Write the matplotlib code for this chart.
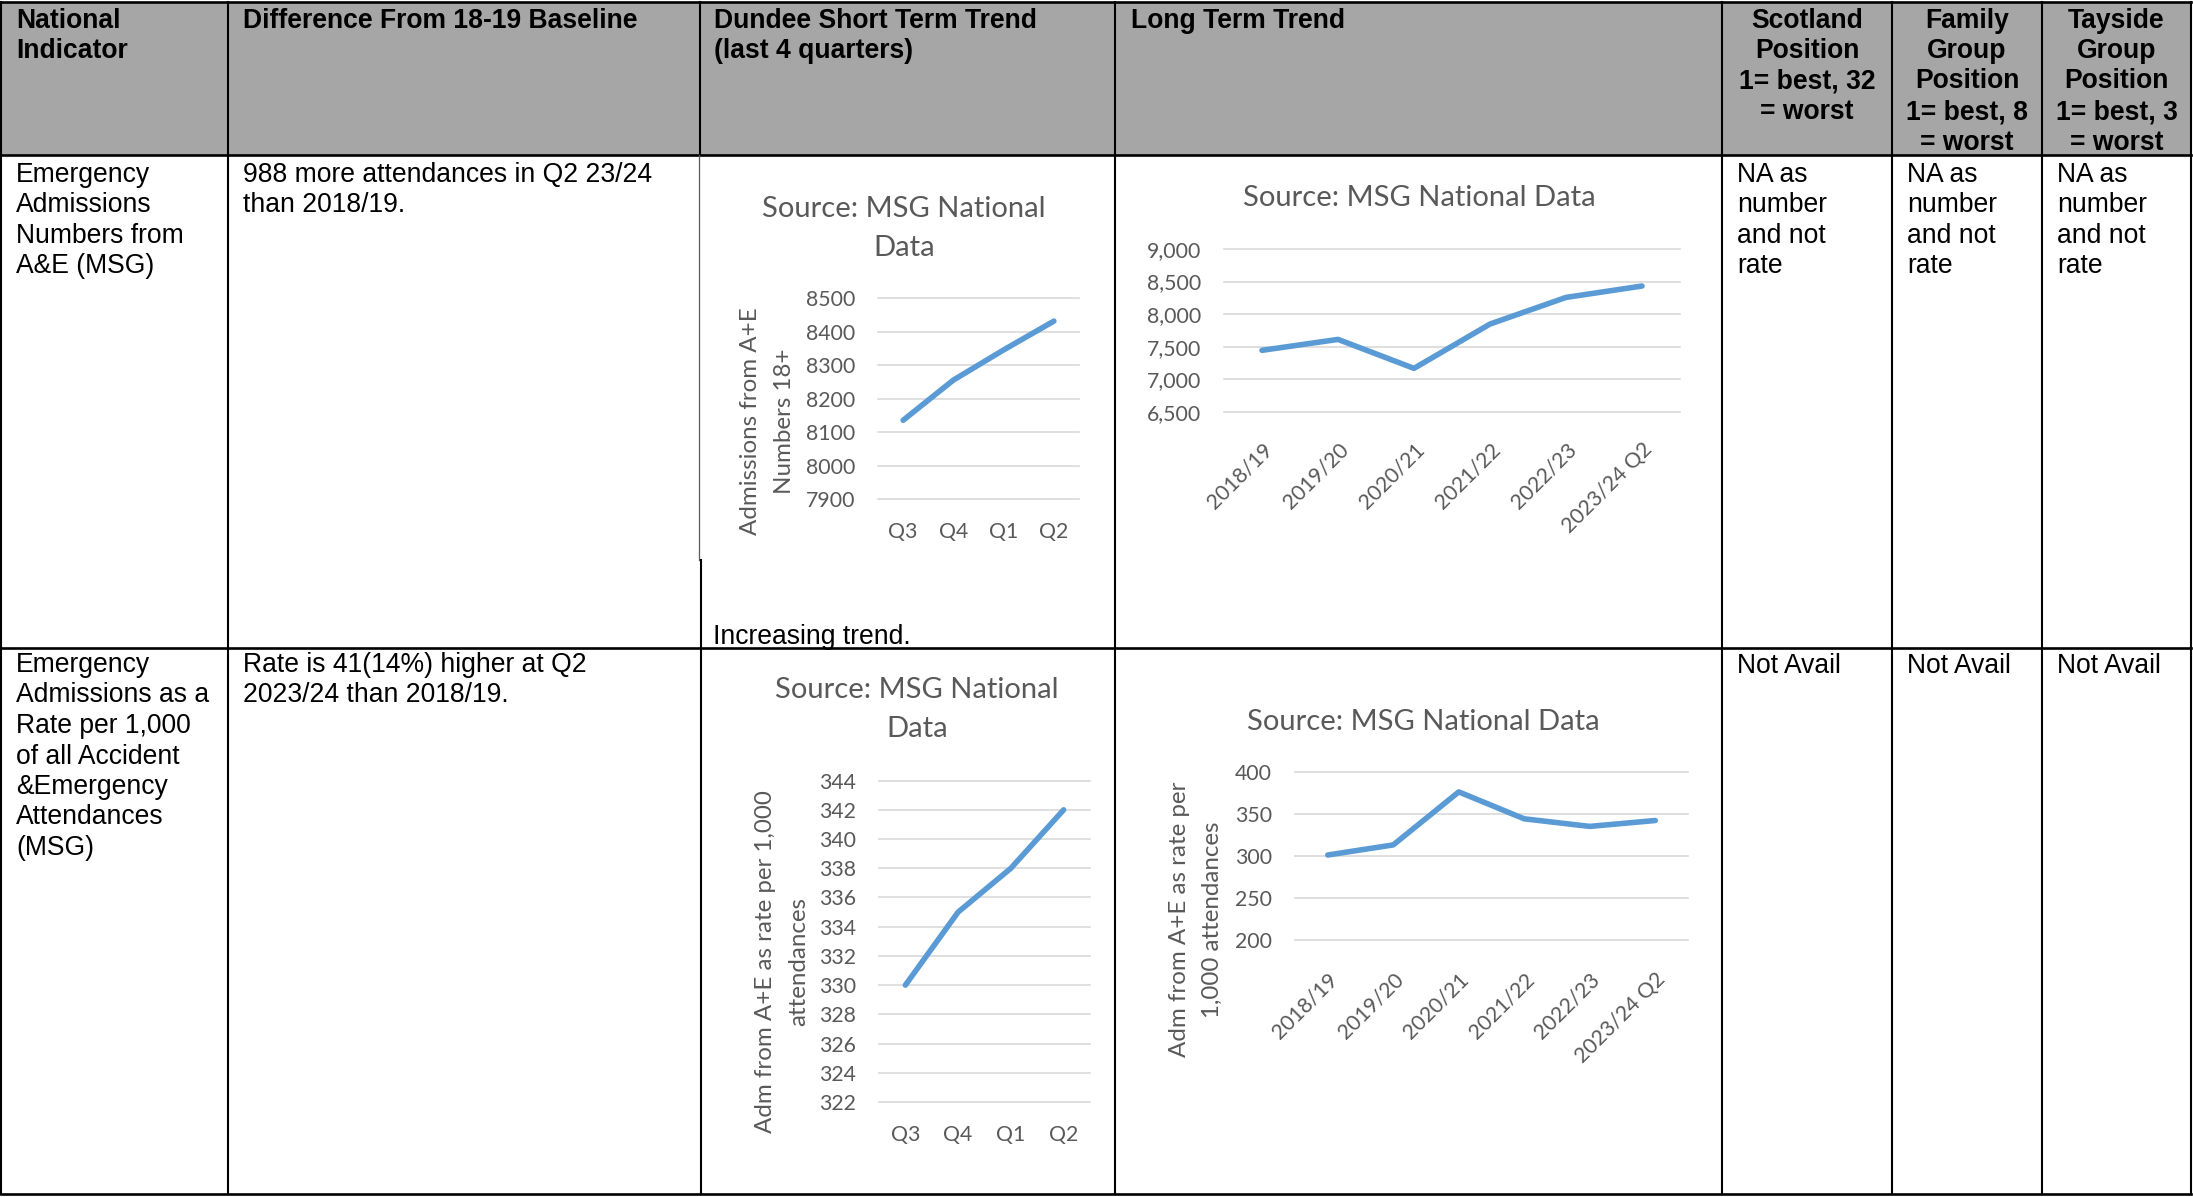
import matplotlib
matplotlib.use("Agg")
import matplotlib.pyplot as plt
from matplotlib.patches import Rectangle

W, H, DPI = 2193, 1197, 100

# ---------------- data ----------------
quarters = ["Q3", "Q4", "Q1", "Q2"]
years = ["2018/19", "2019/20", "2020/21", "2021/22", "2022/23", "2023/24 Q2"]

adm_numbers_short = [8135, 8255, 8345, 8431]
adm_numbers_long = [7443, 7611, 7166, 7847, 8256, 8431]
adm_rate_short = [330, 335, 338, 342]
adm_rate_long = [301, 313, 376, 344, 335, 342]

numbers_short_ticks = [7900, 8000, 8100, 8200, 8300, 8400, 8500]
numbers_long_ticks = [6500, 7000, 7500, 8000, 8500, 9000]
rate_short_ticks = [322, 324, 326, 328, 330, 332, 334, 336, 338, 340, 342, 344]
rate_long_ticks = [200, 250, 300, 350, 400]

header_texts = [
    ["National", "Indicator"],
    ["Difference From 18-19 Baseline"],
    ["Dundee Short Term Trend", "(last 4 quarters)"],
    ["Long Term Trend"],
    ["Scotland", "Position", "1= best, 32", "= worst"],
    ["Family", "Group", "Position", "1= best, 8", "= worst"],
    ["Tayside", "Group", "Position", "1= best, 3", "= worst"],
]
row1_indicator = ["Emergency", "Admissions", "Numbers from", "A&E (MSG)"]
row1_difference = ["988 more attendances in Q2 23/24", "than 2018/19."]
row1_trend_note = "Increasing trend."
row1_positions = ["NA as", "number", "and not", "rate"]
row2_indicator = ["Emergency", "Admissions as a", "Rate per 1,000", "of all Accident",
                  "&Emergency", "Attendances", "(MSG)"]
row2_difference = ["Rate is 41(14%) higher at Q2", "2023/24 than 2018/19."]
row2_positions = ["Not Avail"]

chart_title_short = "Source: MSG National\nData"
chart_title_long = "Source: MSG National Data"
ylabel_numbers = "Admissions from A+E\nNumbers 18+"
ylabel_rate_short = "Adm from A+E as rate per 1,000\nattendances"
ylabel_rate_long = "Adm from A+E as rate per\n1,000 attendances"

# ---------------- layout (pixels) ----------------
col_x = [1, 228, 700, 1115, 1722, 1892, 2042, 2191]
row_y = [2, 155, 648, 1194]

TABLE_FONT = ["Liberation Sans", "DejaVu Sans"]
CHART_FONT = ["Lato", "DejaVu Sans"]
TABLE_SIZE = 19.1
HEADER_GREY = "#A6A6A6"
CHART_TEXT = "#595959"
GRID = "#D9D9D9"
LINE_BLUE = "#5B9BD5"
LINE_STEP = 30.5

fig = plt.figure(figsize=(W / DPI, H / DPI), dpi=DPI)
fig.patch.set_facecolor("white")
bg = fig.add_axes([0, 0, 1, 1])
bg.set_xlim(0, W)
bg.set_ylim(H, 0)
bg.axis("off")

# header band
bg.add_patch(Rectangle((col_x[0], row_y[0]), col_x[-1] - col_x[0], row_y[1] - row_y[0],
                       facecolor=HEADER_GREY, edgecolor="none", zorder=0))

# table rules
for y in row_y:
    bg.plot([col_x[0], col_x[-1]], [y, y], color="black", lw=1.9, zorder=3,
            solid_capstyle="projecting")
for i, x in enumerate(col_x):
    if i == 2:
        bg.plot([x, x], [row_y[0], row_y[1]], color="black", lw=1.5, zorder=3)
        bg.plot([x - 1, x - 1], [row_y[1], 560], color="#5A5A5A", lw=0.9, zorder=3)
        bg.plot([x + 1, x + 1], [560, row_y[3]], color="black", lw=1.5, zorder=3)
    else:
        bg.plot([x, x], [row_y[0], row_y[-1]], color="black", lw=1.5, zorder=3)


def lines_at(x, y0, lines, ha="left", bold=False):
    for k, s in enumerate(lines):
        bg.text(x, y0 + k * LINE_STEP, s, ha=ha, va="baseline", fontsize=TABLE_SIZE,
                family=TABLE_FONT, fontweight="bold" if bold else "normal",
                color="black", zorder=4)


# header text
header_left = [16, 243, 714, 1131]
for i in range(4):
    lines_at(header_left[i], 27.5, header_texts[i], bold=True)
for i in range(4, 7):
    lines_at((col_x[i] + col_x[i + 1]) / 2, 27.5, header_texts[i], ha="center", bold=True)

# row 1
lines_at(16, 181.7, row1_indicator)
lines_at(243, 181.7, row1_difference)
lines_at(713, 644, [row1_trend_note])
for xl in (1737, 1907, 2057):
    lines_at(xl, 181.7, row1_positions)

# row 2
lines_at(16, 672, row2_indicator)
lines_at(243, 672, row2_difference)
for xl in (1737, 1907, 2057):
    lines_at(xl, 673, row2_positions)


def px_axes(x0, y0, x1, y1):
    return fig.add_axes([x0 / W, 1 - y1 / H, (x1 - x0) / W, (y1 - y0) / H])


def line_chart(box, cats, values, ticks, tick_fmt, title, title_xy, ylabel=None,
               ylabel_xy=None, rotate=False, xpad=13.0):
    ax = px_axes(*box)
    ax.set_facecolor("none")
    xs = list(range(len(cats)))
    ax.plot(xs, values, color=LINE_BLUE, lw=4.0, solid_capstyle="round",
            solid_joinstyle="round", zorder=3)
    ax.set_xlim(-0.5, len(cats) - 0.5)
    ax.set_ylim(ticks[0], ticks[-1])
    ax.set_yticks(ticks, [tick_fmt(t) for t in ticks])
    if rotate:
        ax.set_xticks(xs, cats, rotation=45, ha="right", va="top", rotation_mode="anchor")
    else:
        ax.set_xticks(xs, cats)
    for s in ax.spines.values():
        s.set_visible(False)
    ax.grid(axis="y", color=GRID, lw=1.2)
    ax.grid(axis="x", visible=False)
    ax.set_axisbelow(True)
    for gl in ax.yaxis.get_gridlines():
        gl.set_clip_on(False)
    ax.tick_params(axis="y", length=0, pad=16.5, labelsize=15.3, labelcolor=CHART_TEXT)
    ax.tick_params(axis="x", length=0, pad=xpad, labelsize=15.3, labelcolor=CHART_TEXT)
    for lab in ax.get_xticklabels() + ax.get_yticklabels():
        lab.set_family(CHART_FONT)
    bg.text(title_xy[0], title_xy[1], title, ha="center", va="center", fontsize=21,
            family=CHART_FONT, color=CHART_TEXT, linespacing=1.62, zorder=4)
    if ylabel:
        ax.set_ylabel(ylabel, fontsize=17.4, family=CHART_FONT, color=CHART_TEXT,
                      linespacing=1.72)
        ax.yaxis.label.set_va("center")
        ax.yaxis.label.set_ha("center")
        lx = (ylabel_xy[0] - box[0]) / (box[2] - box[0])
        ly = (box[3] - ylabel_xy[1]) / (box[3] - box[1])
        ax.yaxis.set_label_coords(lx, ly)
    return ax


line_chart((878, 298, 1079, 499), quarters, adm_numbers_short, numbers_short_ticks,
           lambda t: f"{t}", chart_title_short, (904, 228.3),
           ylabel_numbers, (767.5, 421), xpad=16.5)
line_chart((1224, 249, 1680, 411.7), years, adm_numbers_long, numbers_long_ticks,
           lambda t: f"{t:,}", chart_title_long, (1419.5, 198.3), rotate=True, xpad=20)
line_chart((879, 780.6, 1090, 1102), quarters, adm_rate_short, rate_short_ticks,
           lambda t: f"{t}", chart_title_short, (916.7, 709.4),
           ylabel_rate_short, (781.7, 961.5), xpad=16.5)
line_chart((1295, 771.7, 1688, 940), years, adm_rate_long, rate_long_ticks,
           lambda t: f"{t}", chart_title_long, (1423.4, 721.7),
           ylabel_rate_long, (1196, 919.5), rotate=True, xpad=21)

fig.savefig("out.png", dpi=DPI, facecolor="white")
